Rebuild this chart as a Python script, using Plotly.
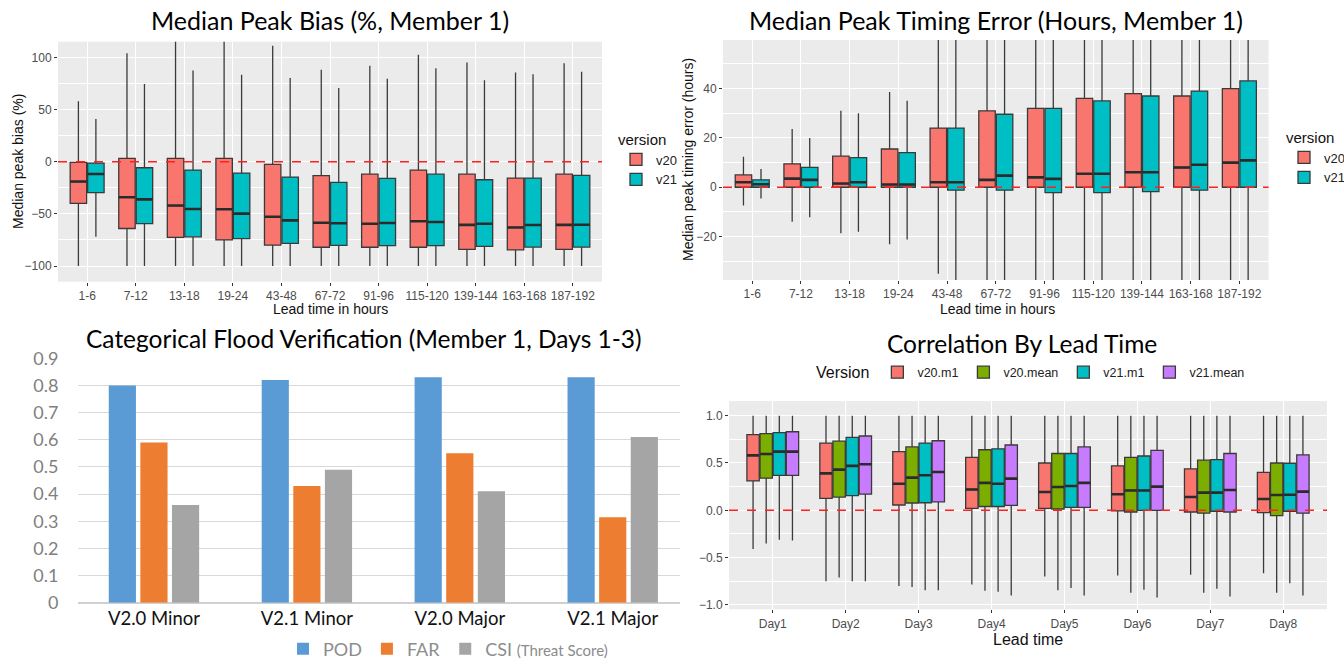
import plotly.graph_objects as go

W, H = 1344, 661

# ---------------- Panel 1: Median peak bias ----------------
lead_cats = ["1-6", "7-12", "13-18", "19-24", "43-48", "67-72", "91-96",
             "115-120", "139-144", "163-168", "187-192"]

bias_v20_q1 = [-40, -64, -72.5, -75, -80, -82, -82, -82, -84, -84.5, -84]
bias_v20_med = [-19, -34, -42, -45.5, -52.7, -58.5, -59.5, -57, -60.5, -63, -60.5]
bias_v20_q3 = [-0.6, 3.2, 3.2, 3.2, -2.6, -13.4, -12, -8, -12, -15.7, -12]
bias_v20_lo = [-100] * 11
bias_v20_hi = [58, 104, 130, 130, 111, 88, 92, 102.6, 95, 85.6, 94.3]

bias_v21_q1 = [-29.7, -59.4, -72, -73.8, -78.3, -80.2, -80.5, -80.5, -81.2, -81.8, -81.8]
bias_v21_med = [-11.8, -36.1, -45.4, -49.8, -56.2, -59, -58.8, -57.8, -59.4, -60.7, -60.4]
bias_v21_q3 = [-1.3, -5.8, -8, -10.9, -14.7, -19.8, -16, -12, -17.3, -15.7, -13.1]
bias_v21_lo = [-72, -100, -100, -100, -100, -100, -100, -100, -100, -100, -100]
bias_v21_hi = [41, 74.4, 87.5, 83.4, 80.2, 70.6, 79.6, 89.5, 78, 83.7, 86.3]

# ---------------- Panel 2: Median peak timing error ----------------
time_v20_q1 = [0, 0, 0, 0, 0, 0, 0, 0, 0, 0, 0]
time_v20_med = [2, 3.5, 1.5, 1.1, 2, 3, 4, 5.5, 6.1, 8, 10]
time_v20_q3 = [5, 9.5, 12.6, 15.5, 24, 31, 32, 36, 38, 37, 40]
time_v20_lo = [-7.4, -14, -18.6, -23.1, -35.1, -60, -60, -60, -60, -60, -60]
time_v20_hi = [12.4, 23.6, 31, 38.6, 80, 80, 80, 80, 80, 80, 80]

time_v21_q1 = [0, 0, 0, 0, -1.2, -1.2, -2.2, -2.2, -1.8, -1.2, 0]
time_v21_med = [1.2, 3, 2, 1.1, 2, 4.7, 3.4, 5.5, 6.1, 9.1, 10.9]
time_v21_q3 = [3, 8.1, 12, 14, 24, 29.6, 32, 35, 37, 39, 43.1]
time_v21_lo = [-4.6, -12.2, -18, -21.2, -60, -60, -60, -60, -60, -60, -60]
time_v21_hi = [7.4, 20, 30, 35.1, 80, 80, 80, 80, 80, 80, 80]

# ---------------- Panel 3: Categorical flood verification ----------------
flood_cats = ["V2.0 Minor", "V2.1 Minor", "V2.0 Major", "V2.1 Major"]
pod = [0.80, 0.82, 0.83, 0.83]
far = [0.59, 0.43, 0.55, 0.315]
csi = [0.36, 0.49, 0.41, 0.61]

# ---------------- Panel 4: Correlation by lead time ----------------
day_cats = ["Day1", "Day2", "Day3", "Day4", "Day5", "Day6", "Day7", "Day8"]
corr_v20m1_q1 = [0.31, 0.127, 0.056, 0.02, 0.02, -0.007, -0.018, -0.025]
corr_v20m1_med = [0.58, 0.39, 0.28, 0.22, 0.194, 0.17, 0.14, 0.12]
corr_v20m1_q3 = [0.80, 0.71, 0.62, 0.56, 0.50, 0.47, 0.437, 0.40]
corr_v20m1_lo = [-0.41, -0.75, -0.80, -0.785, -0.70, -0.69, -0.68, -0.665]

corr_v20mean_q1 = [0.34, 0.14, 0.077, 0.04, 0.014, -0.018, -0.03, -0.056]
corr_v20mean_med = [0.595, 0.43, 0.345, 0.29, 0.246, 0.21, 0.187, 0.162]
corr_v20mean_q3 = [0.81, 0.73, 0.67, 0.64, 0.60, 0.56, 0.53, 0.50]
corr_v20mean_lo = [-0.35, -0.71, -0.81, -0.85, -0.845, -0.87, -0.87, -0.87]

corr_v21m1_q1 = [0.37, 0.155, 0.08, 0.04, 0.03, 0.0, -0.01, -0.01]
corr_v21m1_med = [0.62, 0.47, 0.37, 0.28, 0.257, 0.21, 0.187, 0.165]
corr_v21m1_q3 = [0.82, 0.77, 0.71, 0.65, 0.60, 0.574, 0.535, 0.497]
corr_v21m1_lo = [-0.31, -0.75, -0.845, -0.86, -0.82, -0.84, -0.83, -0.77]

corr_v21mean_q1 = [0.37, 0.17, 0.09, 0.053, 0.03, 0.0, -0.018, -0.03]
corr_v21mean_med = [0.62, 0.486, 0.405, 0.335, 0.29, 0.25, 0.215, 0.197]
corr_v21mean_q3 = [0.83, 0.785, 0.735, 0.69, 0.67, 0.634, 0.60, 0.585]
corr_v21mean_lo = [-0.32, -0.75, -0.845, -0.90, -0.90, -0.92, -0.91, -0.90]

corr_hi = [1.0] * 8

# ---------------- styling ----------------
RED, CYAN, GREEN, PURPLE = "#F8766D", "#00BFC4", "#7CAE00", "#C77CFF"
BOXLINE = "#3a3a3a"
SANS = "Liberation Sans, Arial, sans-serif"
TICKFONT = dict(family=SANS, size=12, color="#4D4D4D")
TITLEFONT = "Lato, Calibri, sans-serif"

fig = go.Figure()


def add_box(x, q1, med, q3, lo, hi, name, color, xa, ya, legend):
    fig.add_trace(go.Box(
        x=x, q1=q1, median=med, q3=q3, lowerfence=lo, upperfence=hi,
        name=name, fillcolor=color, line=dict(color=BOXLINE, width=1.3),
        whiskerwidth=0, boxpoints=False, xaxis=xa, yaxis=ya,
        legend=legend, showlegend=True, offsetgroup=name,
    ))
    # thicker median bar (ggplot style): a flat box sharing the same slot
    fig.add_trace(go.Box(
        x=x, q1=med, median=med, q3=med, lowerfence=med, upperfence=med,
        name=name, fillcolor="rgba(0,0,0,0)", line=dict(color="#2b2b2b", width=2.6),
        whiskerwidth=0, boxpoints=False, xaxis=xa, yaxis=ya,
        showlegend=False, offsetgroup=name, hoverinfo="skip",
    ))


add_box(lead_cats, bias_v20_q1, bias_v20_med, bias_v20_q3, bias_v20_lo, bias_v20_hi,
        "v20", RED, "x", "y", "legend")
add_box(lead_cats, bias_v21_q1, bias_v21_med, bias_v21_q3, bias_v21_lo, bias_v21_hi,
        "v21", CYAN, "x", "y", "legend")

add_box(lead_cats, time_v20_q1, time_v20_med, time_v20_q3, time_v20_lo, time_v20_hi,
        "v20", RED, "x2", "y2", "legend2")
add_box(lead_cats, time_v21_q1, time_v21_med, time_v21_q3, time_v21_lo, time_v21_hi,
        "v21", CYAN, "x2", "y2", "legend2")

fig.add_trace(go.Bar(x=flood_cats, y=pod, name="POD", marker_color="#5B9BD5",
                     marker_line_width=0, xaxis="x3", yaxis="y3", legend="legend3"))
fig.add_trace(go.Bar(x=flood_cats, y=far, name="FAR", marker_color="#ED7D31",
                     marker_line_width=0, xaxis="x3", yaxis="y3", legend="legend3"))
fig.add_trace(go.Bar(x=flood_cats, y=csi,
                     name="CSI <span style='font-size:15px'>(Threat Score)</span>",
                     marker_color="#A5A5A5", marker_line_width=0,
                     xaxis="x3", yaxis="y3", legend="legend3"))

add_box(day_cats, corr_v20m1_q1, corr_v20m1_med, corr_v20m1_q3, corr_v20m1_lo, corr_hi,
        "v20.m1", RED, "x4", "y4", "legend4")
add_box(day_cats, corr_v20mean_q1, corr_v20mean_med, corr_v20mean_q3, corr_v20mean_lo, corr_hi,
        "v20.mean", GREEN, "x4", "y4", "legend4")
add_box(day_cats, corr_v21m1_q1, corr_v21m1_med, corr_v21m1_q3, corr_v21m1_lo, corr_hi,
        "v21.m1", CYAN, "x4", "y4", "legend4")
add_box(day_cats, corr_v21mean_q1, corr_v21mean_med, corr_v21mean_q3, corr_v21mean_lo, corr_hi,
        "v21.mean", PURPLE, "x4", "y4", "legend4")


def px_x(a, b):
    return [a / W, b / W]


def px_y(top, bottom):
    return [1 - bottom / H, 1 - top / H]


gg_x = dict(type="category", showgrid=True, gridcolor="white", gridwidth=1.2,
            ticks="outside", ticklen=3, tickcolor="#333333", tickfont=TICKFONT,
            showline=False, zeroline=False, range=[-0.6, 10.6], automargin=False)
gg_y = dict(showgrid=True, gridcolor="white", gridwidth=1.2, ticks="outside",
            ticklen=3, tickcolor="#333333", tickfont=TICKFONT, zeroline=False,
            showline=False, automargin=False)

fig.update_layout(
    template="none",
    width=W, height=H, margin=dict(l=0, r=0, t=0, b=0, autoexpand=False),
    paper_bgcolor="white", plot_bgcolor="#EBEBEB",
    boxmode="group", boxgap=0.28, boxgroupgap=0.06,
    barmode="group", bargap=0.38, bargroupgap=0.14,
    xaxis=dict(gg_x, domain=px_x(58, 602), anchor="y"),
    yaxis=dict(gg_y, domain=px_y(41.7, 281.7), anchor="x", range=[-115, 115],
               tickvals=[-100, -50, 0, 50, 100],
               minor=dict(tickvals=[-75, -25, 25, 75], showgrid=True,
                          gridcolor="white", gridwidth=0.5, ticks="")),
    xaxis2=dict(gg_x, domain=px_x(723, 1268.6), anchor="y2"),
    yaxis2=dict(gg_y, domain=px_y(40, 280), anchor="x2", range=[-37.6, 59.7],
                tickvals=[-20, 0, 20, 40],
                minor=dict(tickvals=[-30, -10, 10, 30, 50], showgrid=True,
                           gridcolor="white", gridwidth=0.5, ticks="")),
    xaxis3=dict(type="category", domain=px_x(77.5, 680), anchor="y3",
                range=[-0.5, 3.44], showgrid=False, showline=False, zeroline=False,
                ticks="", automargin=False, ticklabelstandoff=3,
                tickfont=dict(family=TITLEFONT, size=18.5, color="#111111")),
    yaxis3=dict(domain=px_y(358.3, 602.7), anchor="x3", range=[0, 0.9],
                dtick=0.1, showgrid=True, gridcolor="#D9D9D9", gridwidth=1,
                zeroline=True, zerolinecolor="#D0D0D0", zerolinewidth=1.5,
                tickformat="~g", ticks="", ticklabelstandoff=18, automargin=False,
                tickfont=dict(family=TITLEFONT, size=18, color="#7F7F7F")),
    xaxis4=dict(gg_x, domain=px_x(729, 1327), anchor="y4", range=[-0.6, 7.6]),
    yaxis4=dict(gg_y, domain=px_y(401, 609.3), anchor="x4", range=[-1.046, 1.155],
                tickvals=[-1, -0.5, 0, 0.5, 1], tickformat=".1f",
                minor=dict(tickvals=[-0.75, -0.25, 0.25, 0.75], showgrid=True,
                           gridcolor="white", gridwidth=0.5, ticks="")),
    legend=dict(x=616 / W, y=1 - 125 / H, xanchor="left", yanchor="top",
                bgcolor="rgba(0,0,0,0)", tracegroupgap=0, itemwidth=30,
                title=dict(text="version", font=dict(family=SANS, size=15, color="#111")),
                font=dict(family=SANS, size=13, color="#222")),
    legend2=dict(x=1284 / W, y=1 - 123 / H, xanchor="left", yanchor="top",
                 bgcolor="rgba(0,0,0,0)", tracegroupgap=0, itemwidth=30,
                 title=dict(text="version", font=dict(family=SANS, size=15, color="#111")),
                 font=dict(family=SANS, size=13, color="#222")),
    legend3=dict(x=283 / W, y=1 - 649 / H, xanchor="left", yanchor="middle",
                 orientation="h", bgcolor="rgba(0,0,0,0)", itemwidth=30,
                 font=dict(family=TITLEFONT, size=18, color="#8C8C8C")),
    legend4=dict(x=814 / W, y=1 - 373 / H, xanchor="left", yanchor="middle",
                 orientation="h", bgcolor="rgba(0,0,0,0)", itemwidth=30,
                 title=dict(text="Version", side="left",
                            font=dict(family=SANS, size=16, color="#111")),
                 font=dict(family=SANS, size=12.5, color="#222")),
)

# white background for the spreadsheet-style bar panel
fig.add_shape(type="rect", xref="x3 domain", yref="y3 domain", x0=-0.01, x1=1.01,
              y0=-0.01, y1=1.02, fillcolor="white", line_width=0, layer="below")

# dashed zero reference lines
for xa, ya in (("x", "y"), ("x2", "y2"), ("x4", "y4")):
    fig.add_shape(type="line", xref=f"{xa} domain", yref=ya, x0=0, x1=1, y0=0, y1=0,
                  line=dict(color="#FF2020", width=1.5, dash="dash"), layer="above")


def ann(text, x, y, size, family=TITLEFONT, color="#000", angle=0):
    fig.add_annotation(text=text, x=x / W, y=1 - y / H, xref="paper", yref="paper",
                       showarrow=False, xanchor="center", yanchor="middle",
                       textangle=angle, font=dict(family=family, size=size, color=color))


ann("Median Peak Bias (%, Member 1)", 330, 20, 25)
ann("Median Peak Timing Error (Hours, Member 1)", 996, 20, 25)
ann("Categorical Flood Verification (Member 1, Days 1-3)", 364, 338, 24.5)
ann("Correlation By Lead Time", 1022, 343, 24.5)

ann("Lead time in hours", 330, 309, 14, family=SANS, color="#111")
ann("Lead time in hours", 997, 309, 14, family=SANS, color="#111")
ann("Lead time", 1028, 639, 16, family=SANS, color="#111")
ann("Median peak bias (%)", 18, 162, 14, family=SANS, color="#111", angle=-90)
ann("Median peak timing error (hours)", 688, 160, 14, family=SANS, color="#111", angle=-90)

fig.write_html("out.html")
